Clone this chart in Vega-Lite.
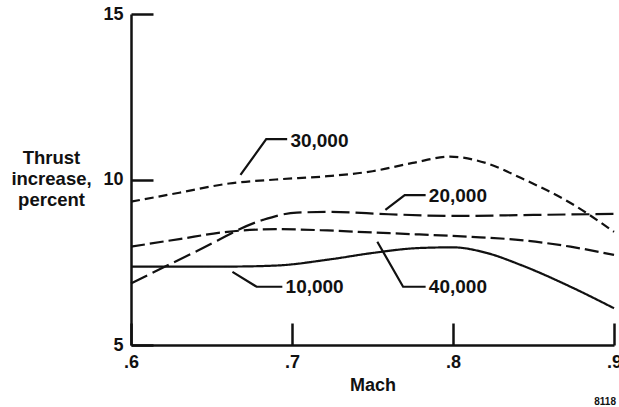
{
  "$schema": "https://vega.github.io/schema/vega-lite/v6.json",
  "width": 483,
  "height": 331,
  "autosize": {"type": "none"},
  "padding": {"left": 131, "top": 14, "right": 5, "bottom": 62},
  "background": "white",
  "config": {"view": {"stroke": null}, "font": "Liberation Sans"},
  "title": {"text": "8118", "orient": "bottom", "anchor": "end", "frame": "group", "dx": 2, "fontSize": 10, "fontWeight": "bold", "color": "#111", "offset": 3},
  "datasets": {
    "curves": [
      {"series": "10,000", "mach": 0.6, "value": 7.37},
      {"series": "10,000", "mach": 0.63, "value": 7.37},
      {"series": "10,000", "mach": 0.661, "value": 7.37},
      {"series": "10,000", "mach": 0.69, "value": 7.4},
      {"series": "10,000", "mach": 0.724, "value": 7.59},
      {"series": "10,000", "mach": 0.75, "value": 7.78},
      {"series": "10,000", "mach": 0.779, "value": 7.93},
      {"series": "10,000", "mach": 0.8, "value": 7.95},
      {"series": "10,000", "mach": 0.821, "value": 7.78},
      {"series": "10,000", "mach": 0.842, "value": 7.42},
      {"series": "10,000", "mach": 0.873, "value": 6.76},
      {"series": "10,000", "mach": 0.9, "value": 6.11},
      {"series": "20,000", "mach": 0.6, "value": 6.86},
      {"series": "20,000", "mach": 0.641, "value": 7.84},
      {"series": "20,000", "mach": 0.682, "value": 8.78},
      {"series": "20,000", "mach": 0.703, "value": 9.0},
      {"series": "20,000", "mach": 0.724, "value": 9.02},
      {"series": "20,000", "mach": 0.76, "value": 8.95},
      {"series": "20,000", "mach": 0.8, "value": 8.9},
      {"series": "20,000", "mach": 0.85, "value": 8.93},
      {"series": "20,000", "mach": 0.9, "value": 8.96},
      {"series": "30,000", "mach": 0.6, "value": 9.33},
      {"series": "30,000", "mach": 0.63, "value": 9.6},
      {"series": "30,000", "mach": 0.661, "value": 9.88},
      {"series": "30,000", "mach": 0.69, "value": 10.0},
      {"series": "30,000", "mach": 0.722, "value": 10.1},
      {"series": "30,000", "mach": 0.75, "value": 10.25},
      {"series": "30,000", "mach": 0.775, "value": 10.5},
      {"series": "30,000", "mach": 0.798, "value": 10.69},
      {"series": "30,000", "mach": 0.821, "value": 10.49},
      {"series": "30,000", "mach": 0.842, "value": 10.05},
      {"series": "30,000", "mach": 0.873, "value": 9.29},
      {"series": "30,000", "mach": 0.9, "value": 8.42},
      {"series": "40,000", "mach": 0.6, "value": 7.97},
      {"series": "40,000", "mach": 0.63, "value": 8.2},
      {"series": "40,000", "mach": 0.66, "value": 8.42},
      {"series": "40,000", "mach": 0.69, "value": 8.5},
      {"series": "40,000", "mach": 0.722, "value": 8.46},
      {"series": "40,000", "mach": 0.75, "value": 8.4},
      {"series": "40,000", "mach": 0.779, "value": 8.34},
      {"series": "40,000", "mach": 0.81, "value": 8.27},
      {"series": "40,000", "mach": 0.842, "value": 8.17},
      {"series": "40,000", "mach": 0.873, "value": 7.97},
      {"series": "40,000", "mach": 0.9, "value": 7.72}
    ],
    "leaders": [
      {"series": "30,000", "mach": 0.668, "value": 10.14},
      {"series": "30,000", "mach": 0.684, "value": 11.22},
      {"series": "30,000", "mach": 0.697, "value": 11.22},
      {"series": "20,000", "mach": 0.758, "value": 9.08},
      {"series": "20,000", "mach": 0.77, "value": 9.53},
      {"series": "20,000", "mach": 0.783, "value": 9.53},
      {"series": "10,000", "mach": 0.663, "value": 7.21},
      {"series": "10,000", "mach": 0.678, "value": 6.76},
      {"series": "10,000", "mach": 0.694, "value": 6.76},
      {"series": "40,000", "mach": 0.753, "value": 8.12},
      {"series": "40,000", "mach": 0.769, "value": 6.76},
      {"series": "40,000", "mach": 0.783, "value": 6.76}
    ],
    "labels": [
      {"label": "30,000", "mach": 0.699, "value": 11.16},
      {"label": "20,000", "mach": 0.785, "value": 9.5},
      {"label": "10,000", "mach": 0.696, "value": 6.74},
      {"label": "40,000", "mach": 0.785, "value": 6.74}
    ]
  },
  "layer": [
    {
      "data": {"name": "curves"},
      "mark": {"type": "line", "interpolate": "monotone", "strokeWidth": 2.2, "color": "#111"},
      "encoding": {
        "x": {
          "field": "mach", "type": "quantitative",
          "scale": {"domain": [0.6, 0.9], "nice": false, "zero": false},
          "axis": {
            "values": [0.6, 0.7, 0.8, 0.9],
            "labelExpr": "'.' + round(datum.value*10)",
            "title": "Mach",
            "grid": false,
            "domainColor": "#111", "domainWidth": 2.5,
            "tickColor": "#111", "tickWidth": 2.5, "tickSize": -22,
            "labelPadding": 30,
            "labelFont": "Liberation Sans", "labelFontSize": 18, "labelFontWeight": "bold", "labelColor": "#111",
            "labelFlush": false, "labelOverlap": false,
            "titleFont": "Liberation Sans", "titleFontSize": 18, "titleFontWeight": "bold", "titleColor": "#111",
            "titleY": 45, "titleBaseline": "alphabetic"
          }
        },
        "y": {
          "field": "value", "type": "quantitative",
          "scale": {"domain": [5, 15], "nice": false, "zero": false},
          "axis": {
            "values": [5, 10, 15],
            "title": ["Thrust", "increase,", "percent"],
            "grid": false,
            "domainColor": "#111", "domainWidth": 2.5,
            "tickColor": "#111", "tickWidth": 2.5, "tickSize": -22,
            "labelPadding": 30,
            "labelFont": "Liberation Sans", "labelFontSize": 18, "labelFontWeight": "bold", "labelColor": "#111",
            "labelFlush": false, "labelOverlap": false,
            "titleFont": "Liberation Sans", "titleFontSize": 18.5, "titleFontWeight": "bold", "titleColor": "#111",
            "titleAngle": 0, "titleAlign": "center", "titleBaseline": "alphabetic",
            "titleX": -80, "titleY": 149, "titleLineHeight": 21
          }
        },
        "detail": {"field": "series"},
        "strokeDash": {
          "field": "series", "type": "nominal",
          "scale": {"domain": ["10,000", "20,000", "30,000", "40,000"], "range": [[1, 0], [18, 6], [9, 5], [14, 5]]},
          "legend": null
        }
      }
    },
    {
      "data": {"name": "leaders"},
      "mark": {"type": "line", "strokeWidth": 2.2, "color": "#111"},
      "encoding": {
        "x": {"field": "mach", "type": "quantitative"},
        "y": {"field": "value", "type": "quantitative"},
        "detail": {"field": "series"}
      }
    },
    {
      "data": {"name": "labels"},
      "mark": {"type": "text", "align": "left", "baseline": "middle", "font": "Liberation Sans", "fontSize": 19, "fontWeight": "bold", "color": "#111"},
      "encoding": {
        "x": {"field": "mach", "type": "quantitative"},
        "y": {"field": "value", "type": "quantitative"},
        "text": {"field": "label"}
      }
    }
  ]
}
